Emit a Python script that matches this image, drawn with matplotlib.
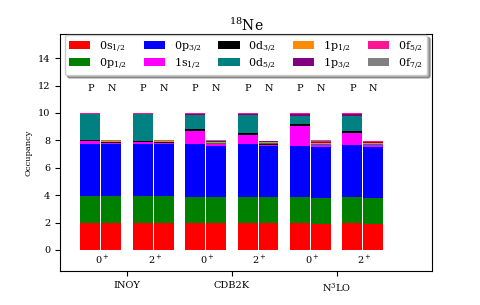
import numpy as np
import matplotlib
matplotlib.use("Agg")
import matplotlib.pyplot as plt

plt.rcParams['font.family'] = ['DejaVu Serif']
plt.rcParams['mathtext.fontset'] = 'dejavuserif'

orbitals = [r'0s$_{1/2}$', r'0p$_{1/2}$', r'0p$_{3/2}$', r'1s$_{1/2}$', r'0d$_{3/2}$',
            r'0d$_{5/2}$', r'1p$_{1/2}$', r'1p$_{3/2}$', r'0f$_{5/2}$', r'0f$_{7/2}$']
colors = ['red', 'green', 'blue', 'magenta', 'black', 'teal', 'darkorange', 'purple',
          'deeppink', 'gray']

interactions = ['INOY', 'CDB2K', r'N$^3$LO']
states = [r'$0^+$', r'$2^+$', r'$0^+$', r'$2^+$', r'$0^+$', r'$2^+$']

# occupancies per state (INOY 0+, INOY 2+, CDB2K 0+, CDB2K 2+, N3LO 0+, N3LO 2+)
# order: 0s1/2, 0p1/2, 0p3/2, 1s1/2, 0d3/2, 0d5/2, 1p1/2, 1p3/2, 0f5/2, 0f7/2
proton = [
    [1.98, 1.93, 3.86, 0.15, 0.12, 1.87, 0.01, 0.03, 0.04, 0.01],
    [1.98, 1.93, 3.86, 0.12, 0.10, 1.90, 0.01, 0.03, 0.04, 0.01],
    [1.97, 1.93, 3.82, 0.97, 0.15, 0.98, 0.02, 0.07, 0.07, 0.01],
    [1.97, 1.93, 3.82, 0.68, 0.15, 1.28, 0.02, 0.07, 0.07, 0.01],
    [1.97, 1.93, 3.72, 1.46, 0.12, 0.56, 0.03, 0.10, 0.10, 0.01],
    [1.95, 1.92, 3.77, 0.88, 0.15, 1.11, 0.03, 0.10, 0.09, 0.01],
]
neutron = [
    [1.98, 1.94, 3.83, 0.04, 0.08, 0.04, 0.01, 0.03, 0.04, 0.01],
    [1.98, 1.94, 3.83, 0.04, 0.08, 0.04, 0.01, 0.03, 0.04, 0.01],
    [1.97, 1.88, 3.75, 0.12, 0.05, 0.07, 0.02, 0.07, 0.06, 0.01],
    [1.97, 1.88, 3.75, 0.08, 0.06, 0.09, 0.02, 0.07, 0.06, 0.01],
    [1.92, 1.88, 3.72, 0.12, 0.05, 0.08, 0.02, 0.10, 0.10, 0.01],
    [1.92, 1.88, 3.74, 0.10, 0.05, 0.07, 0.02, 0.10, 0.10, 0.01],
]

fig, ax = plt.subplots(figsize=(4.8, 3.05), dpi=100)
fig.subplots_adjust(left=0.125, right=0.9, bottom=0.11, top=0.89)
x = np.arange(len(states))
off = 0.2
w = 0.38
P = np.array(proton)
N = np.array(neutron)
botP = np.zeros(len(states))
botN = np.zeros(len(states))
for k, (lab, c) in enumerate(zip(orbitals, colors)):
    ax.bar(x - off, P[:, k], w, bottom=botP, color=c, linewidth=0, label=lab)
    ax.bar(x + off, N[:, k], w, bottom=botN, color=c, linewidth=0)
    botP += P[:, k]
    botN += N[:, k]

for i, s in enumerate(states):
    ax.text(x[i] - off, 11.8, 'P', ha='center', va='center', fontsize=7)
    ax.text(x[i] + off, 11.8, 'N', ha='center', va='center', fontsize=7)
    ax.text(x[i] + 0.03, -0.7, s, ha='center', va='center', fontsize=7)

ax.set_xticks([0.5, 2.5, 4.5])
ax.set_xticklabels(interactions, fontsize=7)
ax.set_yticks(np.arange(0, 15, 2))
ax.tick_params(axis='y', labelsize=7)
ax.set_xlim(-0.78, 6.32)
ax.set_ylim(-1.57, 15.8)
ax.set_ylabel('Occupancy', fontsize=6)
ax.set_title(r'$^{18}$Ne', fontsize=10, pad=1.5)
ax.legend(ncol=5, loc='upper center', fontsize=8, shadow=True, bbox_to_anchor=(0.5, 1.0),
          handlelength=1.9, columnspacing=1.5, borderaxespad=0.1, handletextpad=0.8,
          labelspacing=0.25)

fig.savefig('out.png', dpi=100)
